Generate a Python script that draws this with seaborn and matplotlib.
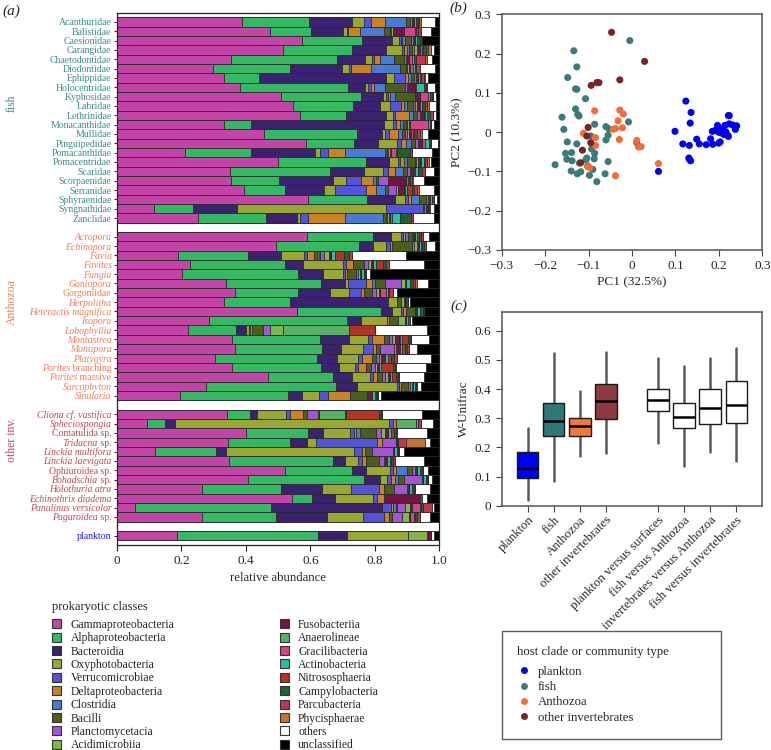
import numpy as np
import pandas as pd
import matplotlib
matplotlib.use("Agg")
import matplotlib.pyplot as plt
from matplotlib.lines import Line2D
from matplotlib.patches import Patch
from matplotlib.ticker import FuncFormatter
import seaborn as sns

# 0. Configuración general
sns.set_theme(style="ticks")
plt.rcParams["font.family"] = ["Liberation Serif", "DejaVu Serif"]
plt.rcParams["xtick.direction"] = "out"
plt.rcParams["ytick.direction"] = "out"

# 1. Datos
class_names = ["Gammaproteobacteria", "Alphaproteobacteria", "Bacteroidia", "Oxyphotobacteria",
               "Verrucomicrobiae", "Deltaproteobacteria", "Clostridia", "Bacilli",
               "Planctomycetacia", "Acidimicrobiia", "Fusobacteriia", "Anaerolineae",
               "Gracilibacteria", "Actinobacteria", "Nitrososphaeria", "Campylobacteria",
               "Parcubacteria", "Phycisphaerae", "others", "unclassified"]
class_colors = ["#c445a8", "#34b864", "#3b2270", "#98a832", "#5454d8", "#c98224",
                "#4a7ad2", "#4b5f1a", "#a455d4", "#82b452", "#731445", "#5bb066",
                "#d6448a", "#25c2a2", "#b23424", "#22622a", "#c23452", "#c27434",
                "#ffffff", "#000000"]

fish_hosts = ["Acanthuridae", "Balistidae", "Caesionidae", "Carangidae", "Chaetodontidae",
              "Diodontidae", "Ephippidae", "Holocentridae", "Kyphosidae", "Labridae",
              "Lethrinidae", "Monacanthidae", "Mullidae", "Pinguipedidae", "Pomacanthidae",
              "Pomacentridae", "Scaridae", "Scorpaenidae", "Serranidae", "Sphyraenidae",
              "Syngnathidae", "Zanclidae"]
#             G     A     B     O     V     D     C     Ba    P     Ac    F     An    Gr    Act   N     Ca    Pa    Ph    oth   unc
fish_abund = [
    [.387, .210, .133, .037, .021, .044, .065, .012, .005, .004, .004, 0, 0, .006, 0, .006, .004, .004, .045, .013],
    [.475, .127, .100, .012, .003, .036, .074, .020, .004, .004, .034, 0, .034, .004, .008, 0, .007, 0, .031, .027],
    [.575, .186, .091, .023, .005, .005, .008, .020, .004, .004, .004, 0, 0, .006, 0, .008, .004, .004, 0, .053],
    [.514, .214, .107, .048, .008, .008, .008, .008, .006, .010, .008, 0, .006, .005, 0, .010, .006, .008, .008, .018],
    [.353, .329, .086, .023, .007, .018, .044, .031, .005, .004, .005, 0, .010, .006, 0, .008, .028, .004, .015, .024],
    [.298, .239, .160, .024, .006, .061, .091, .018, .004, .004, .004, 0, .010, .006, 0, .004, .010, 0, .048, .013],
    [.331, .111, .392, .024, .036, .008, .010, .010, .005, .004, .004, 0, 0, .004, 0, .004, .008, .004, .010, .035],
    [.382, .336, .050, .012, .008, .008, .036, .062, .006, .004, .020, 0, .004, .026, 0, .004, .004, 0, .024, .014],
    [.509, .248, .069, .008, .008, .006, .013, .062, .004, .004, .008, 0, .027, .006, 0, .004, .004, 0, .010, .010],
    [.547, .186, .083, .031, .034, .008, .010, .020, .006, .006, .006, 0, .004, .006, 0, .008, .008, .006, .021, .010],
    [.568, .143, .124, .020, .006, .044, .012, .015, .008, .004, .008, 0, .004, .006, 0, .008, .010, 0, .010, .010],
    [.331, .085, .412, .029, .010, .010, .010, .010, .004, .004, .004, 0, .057, .004, 0, .004, 0, 0, .008, .018],
    [.455, .289, .077, .012, .012, .028, .010, .010, .008, .004, .008, 0, .004, .004, 0, .010, .010, .004, .021, .034],
    [.586, .150, .073, .061, .010, .018, .015, .010, .010, .004, .010, 0, .010, .010, 0, .004, .004, 0, .020, .005],
    [.210, .206, .199, .015, .024, .054, .122, .008, .004, .004, .004, 0, .015, .004, 0, .041, .004, 0, .062, .024],
    [.499, .274, .072, .028, .006, .010, .010, .026, .004, .004, .006, 0, .004, .008, 0, .006, .006, .004, .008, .025],
    [.349, .312, .106, .058, .015, .024, .022, .015, .008, .004, .008, 0, .004, .010, 0, .010, .010, 0, .028, .017],
    [.353, .151, .165, .043, .046, .035, .010, .008, .029, .004, .054, 0, .004, .004, 0, .004, .004, .004, .035, .047],
    [.393, .127, .123, .034, .096, .031, .029, .008, .026, .004, .020, 0, .004, .006, .015, .004, .010, .008, .044, .018],
    [.591, .184, .088, .031, .010, .008, .025, .023, .004, .004, .004, 0, 0, .006, 0, .004, 0, 0, .012, .006],
    [.114, .121, .137, .462, .115, .005, .004, .004, 0, 0, 0, 0, 0, .002, 0, 0, .004, .002, .012, .018],
    [.251, .211, .096, .010, .024, .114, .119, .010, .004, .004, .004, 0, .006, .026, 0, .034, .004, 0, .067, .016],
]

anthozoa_hosts = ["Acropora", "Echinopora", "Favia", "Favites", "Fungia", "Goniopora",
                  "Gorgoniidae", "Herpolitha", "Heteractis magnifica", "Isopora", "Lobophyllia",
                  "Montastrea", "Montipora", "Platygyra", "Porites branching",
                  "Porites massive", "Sarcophyton", "Sinularia"]
anthozoa_abund = [
    [.589, .204, .056, .031, .008, .006, .010, .010, .004, .004, .004, 0, 0, .006, .004, .008, .004, 0, .021, .031],
    [.493, .258, .042, .043, .010, .008, 0, .062, .006, .010, .004, 0, 0, .006, .004, .008, .004, 0, .028, .014],
    [.189, .216, .103, .072, .008, .023, 0, .020, .012, .015, .007, 0, 0, .012, .027, .015, .010, 0, .168, .103],
    [.227, .293, .056, .126, .010, .020, 0, .035, .012, .010, .006, 0, 0, .010, .020, .010, .010, 0, .106, .049],
    [.201, .359, .078, .064, .005, .008, 0, .028, .004, .008, .002, 0, 0, .008, .004, .004, 0, 0, .013, .214],
    [.339, .293, .076, .010, .054, .019, .010, .029, .052, .010, .006, 0, 0, .010, 0, .010, .006, .008, .034, .034],
    [.365, .198, .098, .060, .036, .010, 0, .025, .012, .008, .004, 0, .019, .006, 0, .004, .010, 0, .014, .131],
    [.331, .206, .303, .030, 0, 0, 0, .012, 0, .008, .004, 0, 0, .004, 0, .004, 0, 0, .006, .092],
    [.558, .260, .034, .028, .008, .008, 0, .028, 0, .004, .004, 0, 0, .008, 0, .008, 0, 0, .006, .046],
    [.284, .429, .044, .080, 0, .008, 0, .027, 0, .020, .004, 0, 0, .006, .008, 0, 0, 0, .006, .084],
    [.220, .149, .031, .008, .005, .006, 0, .033, .023, .039, 0, .205, 0, 0, .080, 0, 0, 0, .163, .038],
    [.358, .272, .091, .059, .012, .037, 0, .015, .010, .010, .010, 0, .004, .006, .018, .006, .004, 0, .057, .031],
    [.365, .272, .057, .070, .029, .012, 0, .010, .044, .008, .010, 0, 0, .006, .012, .006, .006, 0, .023, .070],
    [.305, .317, .060, .067, .010, .033, 0, .012, .010, .006, .010, 0, 0, .012, .008, .010, .010, 0, .104, .026],
    [.358, .274, .058, .049, .008, .027, 0, .015, .010, .008, .006, 0, 0, .006, .036, .008, .004, 0, .093, .040],
    [.468, .203, .057, .057, .010, .012, 0, .015, .008, .010, .006, 0, 0, .008, .012, .006, .004, 0, .077, .047],
    [.276, .404, .064, .124, .008, .006, 0, .020, .006, .006, .004, 0, 0, .006, 0, .004, .004, 0, .010, .058],
    [.196, .333, .044, .055, .026, .069, 0, .052, .004, .004, .008, 0, 0, .008, .004, .004, .004, 0, .008, .181],
]

other_hosts = ["Cliona cf. vastifica", "Spheciospongia", "Comatulida sp.", "Tridacna sp.",
               "Linckia multifora", "Linckia laevigata", "Ophiuroidea sp.", "Bohadschia sp.",
               "Holothuria atra", "Echinothrix diadema", "Panulinus versicolor", "Paguroidea sp."]
other_abund = [
    [.341, .072, .021, .091, .012, .041, 0, .010, .035, .004, 0, .080, 0, .004, .103, .004, .004, 0, .124, .054],
    [.093, .055, .031, .666, .010, .012, 0, 0, 0, 0, 0, .062, 0, .004, 0, 0, .010, 0, .037, .020],
    [.400, .191, .049, .083, .012, .008, .012, .050, .015, .010, .010, 0, 0, .010, .008, .008, .004, 0, .093, .037],
    [.344, .193, .052, .029, .188, .015, 0, 0, .044, 0, .004, 0, 0, .004, 0, 0, .024, .058, .015, .030],
    [.119, .189, .031, .397, .024, .008, 0, .023, .065, 0, .004, 0, 0, .008, 0, .004, .004, 0, .013, .111],
    [.348, .323, .037, .041, .012, .010, 0, .043, .015, .004, .004, 0, 0, .010, .004, .006, .004, 0, .090, .049],
    [.520, .210, .042, .075, .008, .010, .034, .015, .010, .004, .004, 0, 0, .008, 0, .006, .004, 0, .015, .035],
    [.406, .361, .049, .023, .010, .012, .010, .018, .057, 0, .004, 0, 0, .008, 0, .004, .004, 0, .012, .022],
    [.265, .243, .127, .090, .089, .015, 0, .029, .041, .004, .004, 0, 0, .008, 0, .006, .004, 0, .045, .030],
    [.542, .062, .073, .117, .012, .021, 0, 0, 0, 0, .112, 0, 0, 0, 0, 0, .006, 0, .018, .037],
    [.057, .421, .343, 0, .028, .006, .010, .004, .026, .015, .004, 0, .026, .004, 0, .004, .029, 0, .008, .015],
    [.263, .231, .157, .112, .066, .015, 0, .010, .029, .023, .004, 0, .010, .006, 0, .004, .010, 0, .031, .029],
]

plankton_abund = [.186, .439, .088, .191, 0, 0, 0, 0, 0, .059, .010, 0, 0, 0, 0, 0, 0, 0, .011, .016]

# nombres en cursiva (completos) y nombres con género en cursiva + texto normal
italic_names = {"Acropora", "Echinopora", "Favia", "Favites", "Fungia", "Goniopora", "Herpolitha",
                "Heteractis magnifica", "Isopora", "Lobophyllia", "Montastrea", "Montipora",
                "Platygyra", "Sarcophyton", "Sinularia", "Cliona cf. vastifica", "Spheciospongia",
                "Linckia multifora", "Linckia laevigata", "Holothuria atra", "Echinothrix diadema",
                "Panulinus versicolor"}
mixed_names = {"Porites branching": ("Porites", " branching"),
               "Porites massive": ("Porites", " massive"),
               "Tridacna sp.": ("Tridacna", " sp."),
               "Bohadschia sp.": ("Bohadschia", " sp."),
               "Paguroidea sp.": ("Paguroidea", " sp.")}

# PCA (panel b)
pca_fish_x = [-.134, -.127, -.148, -.130, -.127, -.107, -.130, -.125, -.122, -.161, -.157, -.086,
              -.060, -.053, -.008, -.005, -.149, -.127, -.095, -.093, -.086, -.153, -.139, -.150,
              -.138, -.177, -.140, -.126, -.118, -.106, -.104, -.087, -.098, -.081, -.090, -.062,
              -.055, -.060, -.055, .011, -.102, -.121]
pca_fish_y = [.207, .166, .139, .110, .109, .085, .059, .045, .041, .038, .007, .020,
              .014, .008, .026, .233, -.025, -.030, -.010, -.043, -.054, -.054, -.052, -.069,
              -.073, -.083, -.099, -.106, -.101, -.070, -.066, -.068, -.110, -.126, -.095, -.106,
              -.075, -.020, -.008, -.027, -.086, -.079]
pca_anth_x = [-.086, -.028, -.020, -.032, -.043, -.038, -.022, -.112, -.084, -.029, .011, .015,
              .021, -.084, -.102, -.098, -.038, .061]
pca_anth_y = [.054, .056, .046, .029, .007, .009, .011, -.003, -.014, -.019, -.021, -.038,
              -.037, -.034, -.088, -.090, -.111, -.080]
pca_inv_x = [-.047, .029, -.094, -.081, -.076, -.028, -.101, -.104, -.095, -.114, -.118]
pca_inv_y = [.254, .180, .119, .126, .126, .133, .012, -.010, -.027, -.046, -.078]
pca_plank_x = [.124, .136, .134, .099, .117, .132, .149, .155, .171, .186, .181, .185, .197, .199,
               .203, .200, .208, .212, .214, .220, .222, .224, .224, .232, .241, .238, .216, .205,
               .132, .135, .131, .061, .222, .193]
pca_plank_y = [.079, .050, .023, .002, -.030, -.034, -.018, -.030, -.032, -.031, -.017, .002, .017, 0,
               -.025, -.028, .009, -.006, .017, -.008, .042, .042, .021, .018, .016, .007, .001, -.002,
               -.069, -.073, -.066, -.100, -.011, .005]

# W-Unifrac (panel c)
box_labels = ["plankton", "fish", "Anthozoa", "other invertebrates", "plankton versus surfaces",
              "fish versus Anthozoa", "invertebrates versus Anthozoa", "fish versus invertebrates"]
box_whislo = [.019, .086, .170, .179, .214, .136, .183, .155]
box_q1 = [.095, .238, .240, .296, .323, .265, .279, .285]
box_med = [.129, .291, .273, .360, .361, .305, .334, .346]
box_q3 = [.183, .352, .300, .417, .400, .352, .400, .426]
box_whishi = [.265, .522, .393, .526, .507, .479, .506, .539]

host_groups = ["plankton", "fish", "Anthozoa", "other invertebrates"]

# 2. Estilos
group_dot_colors = {"plankton": "#0000f0", "fish": "#3b7b7b", "Anthozoa": "#f36c3a",
                    "other invertebrates": "#7a2424"}
box_colors = ["#0000f0", "#2f7878", "#f2783a", "#8c3a40", "white", "white", "white", "white"]
box_pos = [0, 1, 2, 3, 5, 6, 7, 8]
label_colors = {"fish": "#3f8a8a", "Anthozoa": "#f47c56", "other": "#b84a5c", "plankton": "#1a1aff"}


def num_fmt(v, pos=None):
    if abs(v) < 1e-9:
        return "0"
    return f"{v:.1f}".replace("-", "\u2212")


fig = plt.figure(figsize=(7.71, 7.5), dpi=100)
ax_a = fig.add_axes([0.1518, 0.2733, 0.418, 0.71])
ax_b = fig.add_axes([0.6507, 0.6667, 0.338, 0.3143])
ax_c = fig.add_axes([0.6507, 0.3257, 0.338, 0.2587])

# 3. Panel (a): barras apiladas
hosts = fish_hosts + anthozoa_hosts + other_hosts + ["plankton"]
order = fish_hosts + ["gap1"] + anthozoa_hosts + ["gap2"] + other_hosts + ["gap3"] + ["plankton"]
abund = pd.DataFrame(fish_abund + anthozoa_abund + other_abund + [plankton_abund],
                     columns=class_names, index=hosts)
cum = abund.cumsum(axis=1)

# se dibuja del acumulado mayor al menor para que cada barra tape a la anterior
for k in reversed(range(len(class_names))):
    sns.barplot(x=cum.iloc[:, k].values, y=hosts, order=order, orient="y",
                color=class_colors[k], saturation=1, width=1.0, errorbar=None,
                edgecolor="#2a2a2a", linewidth=0.6, ax=ax_a)

ytick_pos = [order.index(h) for h in hosts]
ytick_lab = [mixed_names[h][1] if h in mixed_names else h for h in hosts]
ytick_col = ([label_colors["fish"]] * len(fish_hosts) + [label_colors["Anthozoa"]] * len(anthozoa_hosts)
             + [label_colors["other"]] * len(other_hosts) + [label_colors["plankton"]])
ax_a.set_yticks(ytick_pos)
ax_a.set_yticklabels(ytick_lab, fontsize=7.0)
for lab, h, c in zip(ax_a.get_yticklabels(), hosts, ytick_col):
    lab.set_color(c)
    if h in italic_names:
        lab.set_fontstyle("italic")
    if h in mixed_names:
        # género en cursiva pegado a la izquierda de la etiqueta normal
        ax_a.annotate(mixed_names[h][0], xy=(0, 0.5), xycoords=lab, ha="right", va="center",
                      fontsize=7.0, fontstyle="italic", color=c, annotation_clip=False)
ax_a.set_ylim(56.0, -1.0)
ax_a.set_xlim(0, 1)
ax_a.set_xticks([0, 0.2, 0.4, 0.6, 0.8, 1.0])
ax_a.xaxis.set_major_formatter(FuncFormatter(num_fmt))
ax_a.tick_params(axis="x", labelsize=9.5, length=4, width=0.8, color="#222")
ax_a.tick_params(axis="y", length=2.5, width=0.7, pad=1.5, color="#222")
ax_a.set_xlabel("relative abundance", fontsize=9.2, labelpad=3)
ax_a.set_ylabel("")
for sp in ax_a.spines.values():
    sp.set_visible(True)
    sp.set_color("#222")
    sp.set_linewidth(0.9)

fig.text(0.0156, 1 - 103 / 750, "fish", rotation=90, ha="center", va="center",
         fontsize=8.5, color=label_colors["fish"])
fig.text(0.0156, 1 - 302 / 750, "Anthozoa", rotation=90, ha="center", va="center",
         fontsize=8.5, color=label_colors["Anthozoa"])
fig.text(0.0156, 1 - 440 / 750, "other inv.", rotation=90, ha="center", va="center",
         fontsize=8.5, color=label_colors["other"])

class_handles = [Patch(facecolor=c, edgecolor="#333", linewidth=0.8) for c in class_colors]
leg_a = fig.legend(class_handles, class_names, loc="upper left", bbox_to_anchor=(0.0674, 0.199),
                   ncol=2, frameon=False, fontsize=8.4, title="prokaryotic classes",
                   title_fontsize=9, handlelength=0.8, handleheight=0.8, handletextpad=0.8,
                   columnspacing=9.0, labelspacing=0.12, borderpad=0, borderaxespad=0,
                   alignment="left")
leg_a._legend_box.sep = 4.3

# 4. Panel (b): PCA
pca = pd.concat([
    pd.DataFrame({"pc1": pca_fish_x, "pc2": pca_fish_y, "group": "fish"}),
    pd.DataFrame({"pc1": pca_anth_x, "pc2": pca_anth_y, "group": "Anthozoa"}),
    pd.DataFrame({"pc1": pca_inv_x, "pc2": pca_inv_y, "group": "other invertebrates"}),
    pd.DataFrame({"pc1": pca_plank_x, "pc2": pca_plank_y, "group": "plankton"}),
])
sns.scatterplot(data=pca, x="pc1", y="pc2", hue="group", palette=group_dot_colors, s=26,
                linewidth=0, legend=False, ax=ax_b)
ax_b.set_xlim(-0.3, 0.3)
ax_b.set_ylim(-0.3, 0.3)
ax_b.set_xticks(np.arange(-0.3, 0.31, 0.1))
ax_b.set_yticks(np.arange(-0.3, 0.31, 0.1))
ax_b.xaxis.set_major_formatter(FuncFormatter(num_fmt))
ax_b.yaxis.set_major_formatter(FuncFormatter(num_fmt))
ax_b.set_xlabel("PC1 (32.5%)", fontsize=9.5, labelpad=3)
ax_b.set_ylabel("PC2 (10.3%)", fontsize=9.5, labelpad=3)
ax_b.tick_params(labelsize=9.5, length=4, width=0.8, color="#444")

# 5. Panel (c): boxplots
stats = [dict(label=l, whislo=a, q1=b, med=c, q3=d, whishi=e, fliers=[])
         for l, a, b, c, d, e in zip(box_labels, box_whislo, box_q1, box_med, box_q3, box_whishi)]
bp = ax_c.bxp(stats, positions=box_pos, widths=0.82, patch_artist=True, showfliers=False,
              showcaps=False,
              boxprops=dict(edgecolor="#1a1a1a", linewidth=1.0),
              whiskerprops=dict(color="#5a5a5a", linewidth=1.8),
              medianprops=dict(color="black", linewidth=1.8))
for patch, c in zip(bp["boxes"], box_colors):
    patch.set_facecolor(c)
    patch.set_zorder(3)
for m in bp["medians"]:
    m.set_zorder(4)
ax_c.set_xlim(-1, 9)
ax_c.set_ylim(0, 0.665)
ax_c.set_yticks(np.arange(0, 0.61, 0.1))
ax_c.yaxis.set_major_formatter(FuncFormatter(num_fmt))
ax_c.set_xticks(box_pos)
ax_c.set_xticklabels(box_labels, rotation=45, ha="right", rotation_mode="anchor", fontsize=9.3)
ax_c.tick_params(axis="y", labelsize=9.5, length=4, width=0.8, color="#444")
ax_c.tick_params(axis="x", length=4, width=0.8, color="#444", pad=2)
ax_c.set_ylabel("W-Unifrac", fontsize=9.5, labelpad=3)

for ax in (ax_b, ax_c):
    for sp in ax.spines.values():
        sp.set_visible(True)
        sp.set_color("#555555")
        sp.set_linewidth(1.1)

host_handles = [Line2D([0], [0], marker="o", linestyle="none", markersize=5,
                       markerfacecolor=group_dot_colors[g], markeredgewidth=0) for g in host_groups]
leg_c = fig.legend(host_handles, host_groups, loc="upper left",
                   bbox_to_anchor=(0.651, 0.0147, 0.284, 0.144), mode="expand",
                   fontsize=9.2, title="host clade or community type", title_fontsize=9.2,
                   handlelength=1.0, handletextpad=0.6, labelspacing=0.25, borderpad=1.2,
                   borderaxespad=0, alignment="left", frameon=True, fancybox=False)
leg_c.get_frame().set_edgecolor("#333")
leg_c.get_frame().set_linewidth(1.0)
leg_c._legend_box.sep = 5.5

fig.text(0.003, 0.985, "(a)", fontsize=11, style="italic", va="center")
fig.text(0.583, 0.989, "(b)", fontsize=11, style="italic", va="center")
fig.text(0.584, 0.591, "(c)", fontsize=11, style="italic", va="center")

fig.savefig("out.png", dpi=100)
